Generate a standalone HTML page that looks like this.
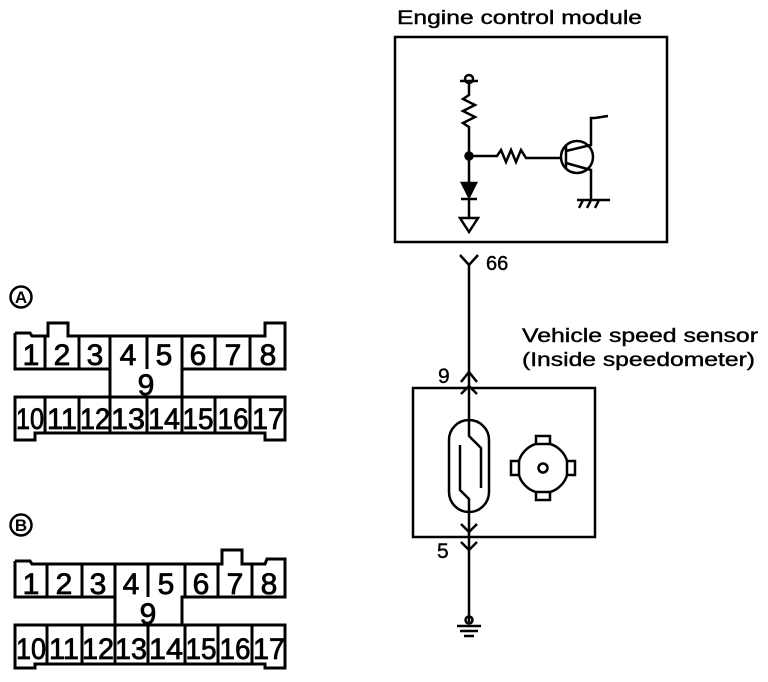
<!DOCTYPE html>
<html><head><meta charset="utf-8"><style>body{margin:0;background:#fff}svg{display:block}</style></head>
<body>
<svg width="768" height="682" viewBox="0 0 768 682" xmlns="http://www.w3.org/2000/svg" font-family="Liberation Sans, sans-serif" fill="none" stroke="#000">
<!-- Connector A -->
<g stroke-width="3">
<circle cx="21" cy="297" r="10.5" stroke-width="2.5"/>
<path d="M15 333 H30 L32 336 H48 V323 H68 V336 H265 V323 H285 V369 H182 V397"/>
<path d="M15 333 V369 H110 V397"/>
<path d="M15 397 H285 V440 H265 V433 H35 V440 H15 Z"/>
<path d="M45 336 V369 M79 336 V369 M110 336 V369 M147 336 V369 M182 336 V369 M215 336 V369 M250 336 V369"/>
<path d="M45 397 V433 M79 397 V433 M110 397 V433 M147 397 V433 M182 397 V433 M215 397 V433 M250 397 V433"/>
</g>
<g fill="#000" stroke="#000" stroke-width="0.8" font-size="30" text-anchor="middle">
<text x="21" y="303" font-size="17" font-weight="bold" stroke="none">A</text>
<text x="31" y="365">1</text><text x="62" y="365">2</text><text x="95" y="365">3</text><text x="128" y="365">4</text><text x="164" y="365">5</text><text x="198" y="365">6</text><text x="233" y="365">7</text><text x="268" y="365">8</text>
<text x="146" y="395">9</text>
<text x="30" y="429" textLength="28" lengthAdjust="spacingAndGlyphs">10</text><text x="62" y="429" textLength="30" lengthAdjust="spacingAndGlyphs">11</text><text x="95" y="429" textLength="30" lengthAdjust="spacingAndGlyphs">12</text><text x="128" y="429" textLength="34" lengthAdjust="spacingAndGlyphs">13</text><text x="164" y="429" textLength="32" lengthAdjust="spacingAndGlyphs">14</text><text x="198" y="429" textLength="31" lengthAdjust="spacingAndGlyphs">15</text><text x="233" y="429" textLength="31" lengthAdjust="spacingAndGlyphs">16</text><text x="268" y="429" textLength="32" lengthAdjust="spacingAndGlyphs">17</text>
</g>
<!-- Connector B -->
<g transform="translate(0,228)">
<g stroke-width="3">
<circle cx="21" cy="297" r="10.5" stroke-width="2.5"/>
<path d="M15 333 H30 L32 336 H222 V322 H242 V336 H265 L267 331 H285 V369 H182 V397"/>
<path d="M15 333 V369 H115 V397"/>
<path d="M15 397 H285 V440 H265 V436 H35 V440 H15 Z"/>
<path d="M47 336 V369 M82 336 V369 M115 336 V369 M148 336 V369 M185 336 V369 M218 336 V369 M252 336 V369"/>
<path d="M47 397 V436 M82 397 V436 M115 397 V436 M148 397 V436 M185 397 V436 M218 397 V436 M252 397 V436"/>
</g>
<g fill="#000" stroke="#000" stroke-width="0.8" font-size="30" text-anchor="middle">
<text x="21" y="303" font-size="17" font-weight="bold" stroke="none">B</text>
<text x="31" y="366">1</text><text x="64" y="366">2</text><text x="98" y="366">3</text><text x="131" y="366">4</text><text x="166" y="366">5</text><text x="201" y="366">6</text><text x="235" y="366">7</text><text x="269" y="366">8</text>
<text x="148" y="396">9</text>
<text x="31" y="431" textLength="30" lengthAdjust="spacingAndGlyphs">10</text><text x="64" y="431" textLength="30" lengthAdjust="spacingAndGlyphs">11</text><text x="98" y="431" textLength="32" lengthAdjust="spacingAndGlyphs">12</text><text x="131" y="431" textLength="32" lengthAdjust="spacingAndGlyphs">13</text><text x="166" y="431" textLength="34" lengthAdjust="spacingAndGlyphs">14</text><text x="201" y="431" textLength="31" lengthAdjust="spacingAndGlyphs">15</text><text x="235" y="431" textLength="31" lengthAdjust="spacingAndGlyphs">16</text><text x="269" y="431" textLength="32" lengthAdjust="spacingAndGlyphs">17</text>
</g>
</g>
<!-- ECM -->
<g fill="#000" stroke="#000" stroke-width="0.4" font-size="19">
<text x="397" y="24" textLength="245" lengthAdjust="spacingAndGlyphs">Engine control module</text>
<text x="486" y="270" font-size="20">66</text>
<text x="522" y="342" textLength="236" lengthAdjust="spacingAndGlyphs">Vehicle speed sensor</text>
<text x="522" y="366" textLength="233" lengthAdjust="spacingAndGlyphs">(Inside speedometer)</text>
<text x="438" y="383" font-size="21">9</text>
<text x="437" y="558" font-size="21">5</text>
</g>
<rect x="395" y="37" width="272" height="205" stroke-width="2.5"/>
<g stroke-width="2.5">
<circle cx="469" cy="79" r="4"/>
<path d="M460 81 H478"/>
<path d="M469 83 V95 L463 99 L475 105 L463 111 L475 117 L463 123 L469 127 V183"/>
<circle cx="469" cy="156" r="3.5" fill="#000"/>
<path d="M469 156 H497 L501 150 L506 162 L511 150 L516 162 L521 150 L526 158 H561"/>
<circle cx="577" cy="157" r="16"/>
<path d="M566 145 V169 M566 151 L591 145 V118 H595 L608 116 M566 163 L591 170 V200"/>
<path d="M577 200 H610 M583 200 L579 208 M591 200 L587 208 M599 200 L595 208"/>
<path d="M462 183 H476 L469 197 Z" fill="#000"/>
<path d="M461 199 H477 M469 199 V218 M460 218 H478 L469 232 Z"/>
</g>
<!-- wire -->
<g stroke-width="2.5">
<path d="M460 255 L469 265 L478 255 M469 265 V622"/>
<path d="M461 382 L469 372 L477 382 M461 394 L469 386 L477 394"/>
<path d="M461 524 L469 532 L477 524 M461 542 L469 550 L477 542"/>
<rect x="413" y="388" width="182" height="149"/>
<rect x="449" y="420" width="40" height="92" rx="20" fill="#fff"/>
<path d="M469 420 V436 L481 448 V488 M460 445 V490 L469 499 V512"/>
<circle cx="543" cy="468" r="25"/>
<circle cx="543" cy="468" r="4.5"/>
<rect x="536" y="436" width="14" height="8" fill="#fff"/>
<rect x="536" y="492" width="14" height="8" fill="#fff"/>
<rect x="511" y="461" width="8" height="14" fill="#fff"/>
<rect x="567" y="461" width="8" height="14" fill="#fff"/>
<circle cx="469" cy="620" r="3.5"/>
<path d="M457 626 H481 M460 631 H478 M464 636 H474"/>
</g>
</svg>
</body></html>
